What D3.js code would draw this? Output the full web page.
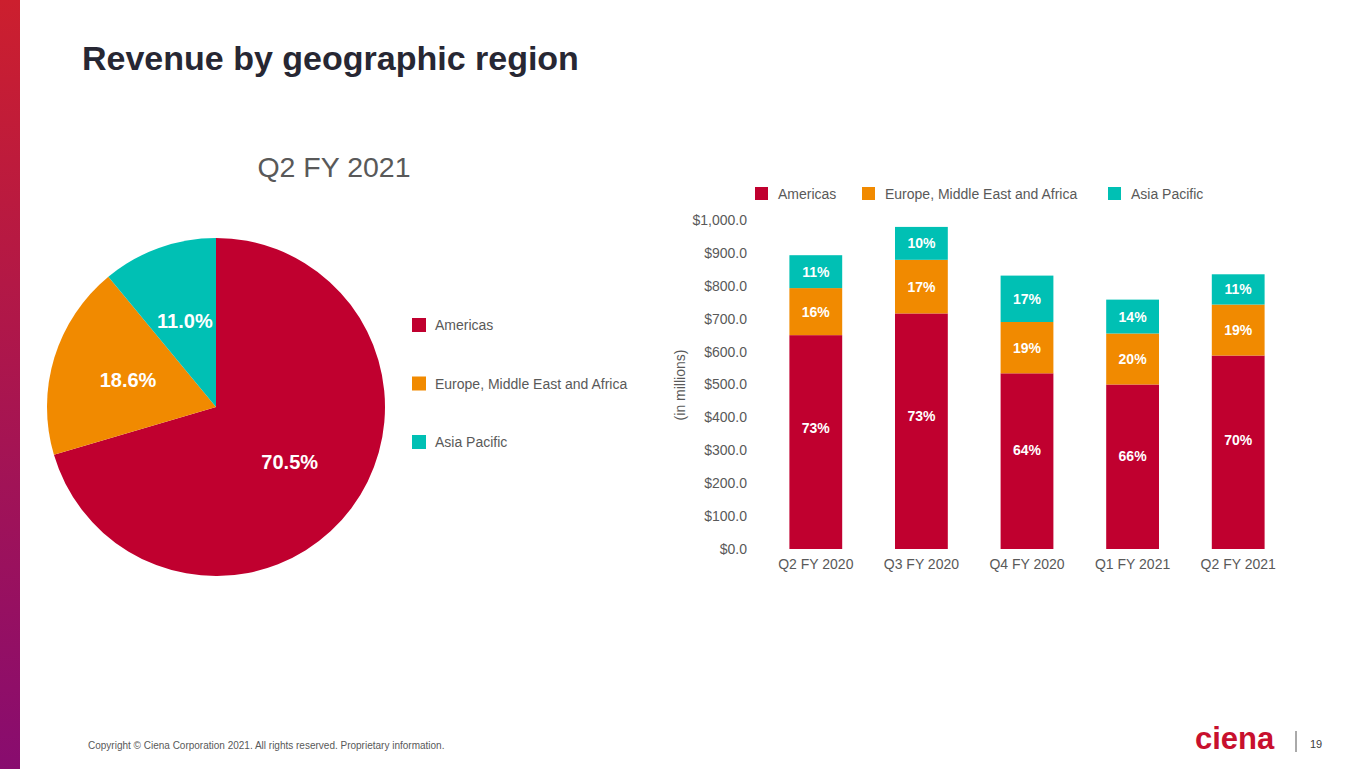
<!DOCTYPE html>
<html>
<head>
<meta charset="utf-8">
<script src="https://cdn.jsdelivr.net/npm/d3@7"></script>
<style>
  body { margin: 0; background: #fff; }
  svg { display: block; font-family: "Liberation Sans", Arial, sans-serif; }
</style>
</head>
<body>
<div id="chart"></div>
<script>
// Data
var regions = ["Americas", "Europe, Middle East and Africa", "Asia Pacific"];
var regionColors = ["#c0002f", "#f18a00", "#00c0b4"];

// pie: Q2 FY 2021 share (%)
var pieShares = [70.5, 18.6, 11.0];

// stacked bars, revenue in $ millions
var quarters = ["Q2 FY 2020", "Q3 FY 2020", "Q4 FY 2020", "Q1 FY 2021", "Q2 FY 2021"];
var americas = [650, 716, 534, 500, 588];
var emea = [143, 163, 156, 155, 155];
var apac = [100, 100, 141, 103, 92];
var yTicks = [0, 100, 200, 300, 400, 500, 600, 700, 800, 900, 1000];

var width = 1365, height = 769;
var grayText = "#595959";

var svg = d3.select("#chart")
  .append("svg")
  .attr("width", width)
  .attr("height", height);

// left accent strip
var grad = svg.append("defs").append("linearGradient")
  .attr("id", "strip")
  .attr("x1", 0).attr("y1", 0).attr("x2", 0).attr("y2", 1);
grad.append("stop").attr("offset", "0%").attr("stop-color", "#cc1f2e");
grad.append("stop").attr("offset", "100%").attr("stop-color", "#880c6f");
svg.append("rect")
  .attr("x", 0).attr("y", 0)
  .attr("width", 20).attr("height", height)
  .style("fill", "url(#strip)");

// title
svg.append("text")
  .attr("x", 82).attr("y", 70)
  .text("Revenue by geographic region")
  .style("font-size", "34px")
  .style("font-weight", "bold")
  .style("fill", "#272733");

// ---- pie ----
svg.append("text")
  .attr("x", 334).attr("y", 177)
  .attr("text-anchor", "middle")
  .text("Q2 FY 2021")
  .style("font-size", "28.5px")
  .style("fill", grayText);

var pieData = regions.map(function(r, i) { return { region: r, value: pieShares[i], color: regionColors[i] }; });
var pie = d3.pie().sort(null).value(function(d) { return d.value; });
var radius = 169;
var arc = d3.arc().innerRadius(0).outerRadius(radius);
var labelArc = d3.arc().innerRadius(92).outerRadius(92);

var pieG = svg.append("g").attr("transform", "translate(216,407)");
var slices = pieG.selectAll("g.slice")
  .data(pie(pieData))
  .enter()
  .append("g")
  .attr("class", "slice");

slices.append("path")
  .attr("d", arc)
  .style("fill", function(d) { return d.data.color; });

slices.append("text")
  .attr("transform", function(d) { return "translate(" + labelArc.centroid(d) + ")"; })
  .attr("text-anchor", "middle")
  .attr("dy", "0.36em")
  .text(function(d) { return d.data.value.toFixed(1) + "%"; })
  .style("fill", "#fff")
  .style("font-size", "20px")
  .style("font-weight", "bold");

// pie legend
var pieLegend = svg.selectAll("g.pieLegend")
  .data(pieData)
  .enter()
  .append("g")
  .attr("class", "pieLegend")
  .attr("transform", function(d, i) { return "translate(412," + (318 + i * 58.5) + ")"; });
pieLegend.append("rect")
  .attr("width", 14).attr("height", 14)
  .style("fill", function(d) { return d.color; });
pieLegend.append("text")
  .attr("x", 23).attr("y", 12)
  .text(function(d) { return d.region; })
  .style("font-size", "14px")
  .style("fill", grayText);

// ---- stacked bars ----
var rows = quarters.map(function(q, i) {
  return { quarter: q, Americas: americas[i], "Europe, Middle East and Africa": emea[i], "Asia Pacific": apac[i],
           total: americas[i] + emea[i] + apac[i] };
});
var stack = d3.stack().keys(regions)(rows);

var x = d3.scaleBand()
  .domain(quarters)
  .range([763, 1291])
  .paddingInner(0.5)
  .paddingOuter(0.25);

var y = d3.scaleLinear()
  .domain([0, 1000])
  .range([549, 220]);

var yAxis = svg.append("g")
  .attr("transform", "translate(747,0)")
  .call(d3.axisLeft(y).tickValues(yTicks).tickSize(0).tickPadding(0)
    .tickFormat(function(d) { return "$" + d3.format(",.1f")(d); }));
yAxis.select(".domain").remove();
yAxis.selectAll("text")
  .style("font-family", "Liberation Sans, Arial, sans-serif")
  .style("font-size", "14px")
  .style("fill", grayText);

var xAxis = svg.append("g")
  .attr("transform", "translate(0,556)")
  .call(d3.axisBottom(x).tickSize(0).tickPadding(3));
xAxis.select(".domain").remove();
xAxis.selectAll("text")
  .style("font-family", "Liberation Sans, Arial, sans-serif")
  .style("font-size", "14px")
  .style("fill", grayText);

svg.append("text")
  .attr("transform", "translate(685,385) rotate(-90)")
  .attr("text-anchor", "middle")
  .text("(in millions)")
  .style("font-size", "14px")
  .style("fill", grayText);

var layers = svg.selectAll("g.layer")
  .data(stack)
  .enter()
  .append("g")
  .attr("class", "layer")
  .style("fill", function(d, i) { return regionColors[i]; });

layers.selectAll("rect")
  .data(function(d) { return d; })
  .enter()
  .append("rect")
  .attr("x", function(d) { return x(d.data.quarter); })
  .attr("y", function(d) { return y(d[1]); })
  .attr("height", function(d) { return y(d[0]) - y(d[1]); })
  .attr("width", x.bandwidth());

// the bottom (Americas) labels sit a little above the middle of their segment
layers.each(function(layer, li) {
  var pos = li === 0 ? 0.435 : 0.5;
  d3.select(this).selectAll("text")
    .data(layer)
    .enter()
    .append("text")
    .attr("x", function(d) { return x(d.data.quarter) + x.bandwidth() / 2; })
    .attr("y", function(d) { return y(d[1]) + pos * (y(d[0]) - y(d[1])); })
    .attr("dy", "0.36em")
    .attr("text-anchor", "middle")
    .text(function(d) { return Math.round((d[1] - d[0]) / d.data.total * 100) + "%"; })
    .style("fill", "#fff")
    .style("font-size", "14px")
    .style("font-weight", "bold");
});

// bar legend
var legendX = [755, 862, 1108];
var barLegend = svg.selectAll("g.barLegend")
  .data(regions)
  .enter()
  .append("g")
  .attr("class", "barLegend")
  .attr("transform", function(d, i) { return "translate(" + legendX[i] + ",187)"; });
barLegend.append("rect")
  .attr("width", 13).attr("height", 13)
  .style("fill", function(d, i) { return regionColors[i]; });
barLegend.append("text")
  .attr("x", 23).attr("y", 12)
  .text(function(d) { return d; })
  .style("font-size", "14px")
  .style("fill", grayText);

// footer
svg.append("text")
  .attr("x", 88).attr("y", 749)
  .text("Copyright \u00a9 Ciena Corporation 2021. All rights reserved. Proprietary information.")
  .style("font-size", "10px")
  .style("fill", grayText);

svg.append("text")
  .attr("x", 1195).attr("y", 749)
  .text("ciena")
  .style("font-size", "31px")
  .style("font-weight", "bold")
  .style("fill", "#c8102e");

svg.append("line")
  .attr("x1", 1296).attr("x2", 1296)
  .attr("y1", 731).attr("y2", 752)
  .style("stroke", "#555")
  .style("stroke-width", 1);

svg.append("text")
  .attr("x", 1310).attr("y", 748)
  .text("19")
  .style("font-size", "11px")
  .style("fill", "#404040");
</script>
</body>
</html>
